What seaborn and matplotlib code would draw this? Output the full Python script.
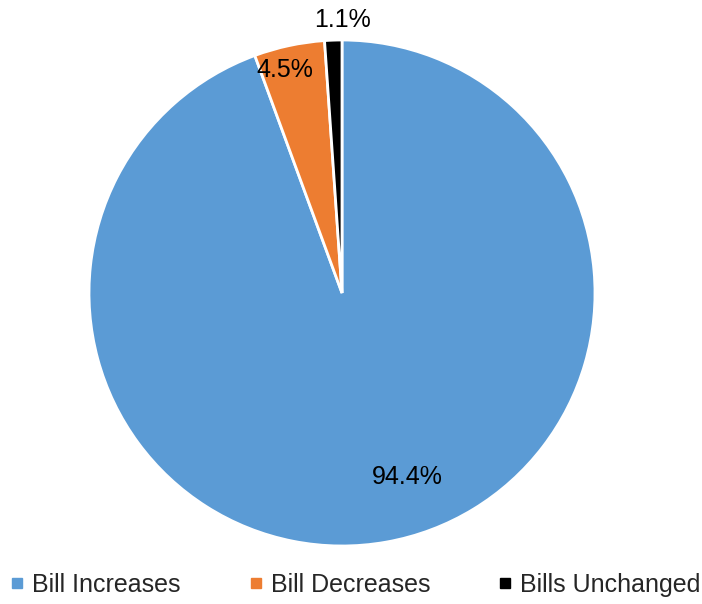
import numpy as np
import matplotlib
matplotlib.use("Agg")
import matplotlib.pyplot as plt
from matplotlib.lines import Line2D
import seaborn as sns

sns.set_theme(style="white")
plt.rcParams["font.family"] = ["Liberation Sans", "DejaVu Sans"]

categories = ["Bill Increases", "Bill Decreases", "Bills Unchanged"]
shares = [94.4, 4.5, 1.1]
colors = ["#5B9BD5", "#ED7D31", "#000000"]

# label placement (radius, angle offset in degrees from wedge middle)
label_radius = [0.77, 0.91, 1.08]
label_shift = [9.5, 2.4, -2.0]

W, H = 702, 604
fig = plt.figure(figsize=(W / 100, H / 100), dpi=100)
cx, cy, r = 342, 293, 253
ax = fig.add_axes([(cx - r) / W, (H - cy - r) / H, 2 * r / W, 2 * r / H])

wedges, _ = ax.pie(
    shares,
    colors=colors,
    startangle=90,
    counterclock=False,
    radius=1.0,
    wedgeprops=dict(edgecolor="white", linewidth=2),
)
ax.set_xlim(-1, 1)
ax.set_ylim(-1, 1)
ax.set_aspect("equal")
ax.axis("off")

for w, val, rad, shift in zip(wedges, shares, label_radius, label_shift):
    mid = np.deg2rad((w.theta1 + w.theta2) / 2 + shift)
    ax.text(rad * np.cos(mid), rad * np.sin(mid), f"{val:.1f}%",
            ha="center", va="center", fontsize=18, color="black",
            clip_on=False)

handles = [Line2D([0], [0], marker="s", linestyle="none", markersize=7.5,
                  markerfacecolor=c, markeredgecolor=c) for c in colors]
fig.legend(handles, categories, loc="center", ncol=3,
           bbox_to_anchor=(356 / W, 1 - 585 / H), frameon=False, fontsize=18,
           handlelength=0.5, handletextpad=0.35, columnspacing=2.75,
           borderaxespad=0, borderpad=0)

fig.savefig("out.png", dpi=100)
